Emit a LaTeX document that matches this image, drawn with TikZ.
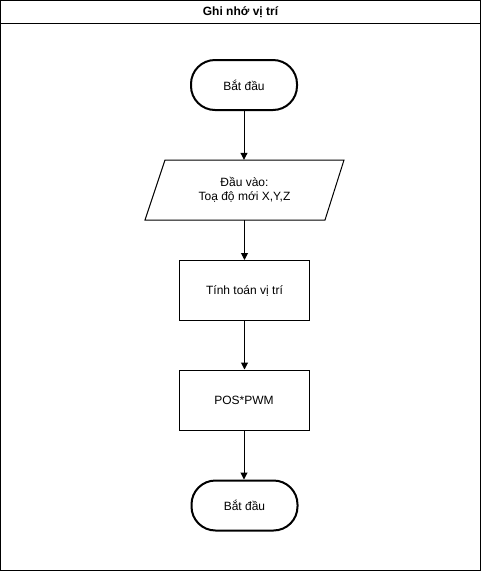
\documentclass[tikz,border=0pt]{standalone}
\usepackage{fontspec}
\setmainfont{Liberation Sans}
\usetikzlibrary{arrows.meta}
\begin{document}
\begin{tikzpicture}[x=1pt,y=-1pt,
  every node/.style={font=\fontsize{12}{14}\selectfont, align=center, inner sep=0pt},
  term/.style={draw, line width=2pt, rounded corners=24pt, minimum width=106pt, minimum height=50pt},
  procbox/.style={draw, line width=1pt, minimum width=130pt, minimum height=60pt},
  conn/.style={line width=1pt, -{Triangle[length=7pt,width=7pt]}}
]
\useasboundingbox (0,0) rectangle (481,571);
% frame
\draw[line width=1pt] (0.5,0.5) coordinate (fnw) rectangle (480.5,570.5) coordinate (fse);
\draw[line width=1pt] (0.5,23) coordinate (tl) -- (480.5,23) coordinate (tr);
\node[font=\bfseries\fontsize{12}{14}\selectfont] (title) at (240.5,12) {Ghi nhớ vị trí};
% shapes
\node[term] (start) at (244,85) {Bắt đầu};
\node[minimum width=180pt, minimum height=60pt] (inp) at (244.5,190) {Đầu vào:\\Toạ độ mới X,Y,Z};
\draw[line width=1pt] (145,220) -- (165,160) -- (344,160) -- (325,220) -- cycle;
\node[procbox] (calc) at (244.5,290.5) {Tính toán vị trí};
\node[procbox] (pos) at (244,400) {POS*PWM};
\node[term] (stop) at (244.5,505.5) {Bắt đầu};
% connectors
\draw[conn] (start.south) -- (start.south |- inp.north);
\draw[conn] (inp.south -| calc.north) -- (calc.north);
\draw[conn] (calc.south) -- (calc.south |- pos.north);
\draw[conn] (pos.south) -- (pos.south |- stop.north);
\end{tikzpicture}
\end{document}
